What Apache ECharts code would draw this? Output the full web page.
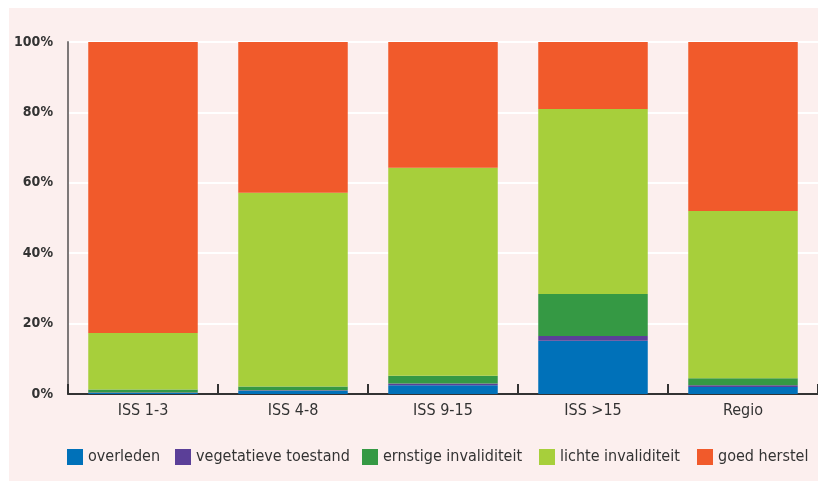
<!DOCTYPE html>
<html>
<head>
<meta charset="utf-8">
<script src="https://cdn.jsdelivr.net/npm/echarts@6/dist/echarts.min.js"></script>
<style>
  html, body { margin: 0; padding: 0; background: #ffffff; }
  #chart { width: 818px; height: 481px; }
</style>
</head>
<body>
<div id="chart"></div>
<script>
// Outcome per ISS group, in percent of patients (stacked to 100%)
const categories = ['ISS 1-3', 'ISS 4-8', 'ISS 9-15', 'ISS >15', 'Regio'];
const overleden = [0.3, 0.9, 2.5, 15.1, 2.0];
const vegetatief = [0.1, 0.2, 0.5, 1.4, 0.5];
const ernstig = [0.9, 1.0, 2.2, 11.9, 2.0];
const licht = [16.0, 55.1, 59.1, 52.6, 47.5];
const goed = [82.7, 42.8, 35.7, 19.0, 48.0];
const yTicks = [0, 20, 40, 60, 80, 100];

const seriesNames = ['overleden', 'vegetatieve toestand', 'ernstige invaliditeit', 'lichte invaliditeit', 'goed herstel'];
const seriesData = [overleden, vegetatief, ernstig, licht, goed];
const colors = ['#0071b9', '#5b3f98', '#359944', '#a7cf3b', '#f15a2b'];
const legendLeft = [67, 175, 362, 539, 697];

const FONT = '"DejaVu Sans Condensed", "DejaVu Sans", sans-serif';
const TEXT = '#333333';

const chart = echarts.init(document.getElementById('chart'), null, { renderer: 'canvas' });

chart.setOption({
  animation: false,
  color: colors,
  graphic: [{
    type: 'rect',
    z: -10,
    shape: { x: 9, y: 8, width: 809, height: 473 },
    style: { fill: '#fcefee' },
    silent: true
  }],
  grid: { left: 68, right: 0, top: 42, bottom: 87 },
  legend: seriesNames.map((name, i) => ({
    data: [name],
    left: legendLeft[i],
    top: 449,
    padding: 0,
    itemWidth: 16,
    itemHeight: 16,
    itemGap: 0,
    itemTextGap: 7,
    icon: 'rect',
    selectedMode: false,
    textStyle: { fontFamily: FONT, fontSize: 16, color: TEXT }
  })),
  xAxis: {
    type: 'category',
    data: categories,
    axisLine: { lineStyle: { color: '#333333', width: 2 } },
    axisTick: { show: true, inside: true, length: 10, lineStyle: { color: '#333333', width: 2 } },
    axisLabel: { fontFamily: FONT, fontSize: 16, color: TEXT, margin: 9 }
  },
  yAxis: {
    type: 'value',
    min: 0,
    max: 100,
    interval: 20,
    axisLine: { show: true, lineStyle: { color: '#7d7878', width: 2 } },
    axisTick: { show: false },
    splitLine: { show: true, lineStyle: { color: '#ffffff', width: 2 } },
    axisLabel: {
      fontFamily: FONT, fontSize: 14, fontWeight: 'bold', color: TEXT, margin: 15,
      formatter: v => yTicks.includes(v) ? v + '%' : ''
    }
  },
  series: seriesNames.map((name, i) => ({
    name: name,
    type: 'bar',
    stack: 'total',
    barCategoryGap: '27%',
    data: seriesData[i],
    itemStyle: { color: colors[i] }
  }))
});
</script>
</body>
</html>
